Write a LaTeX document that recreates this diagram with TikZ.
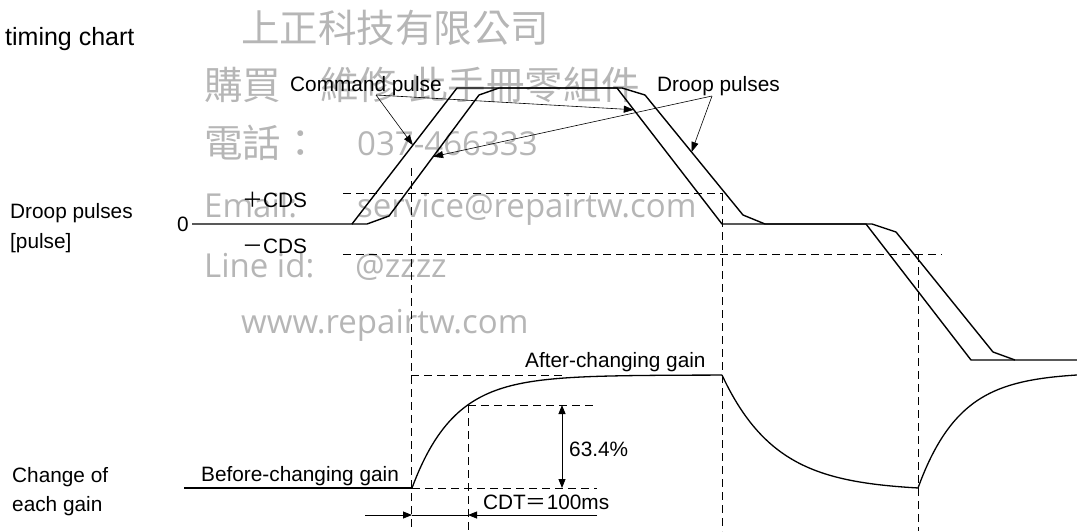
\documentclass[tikz,border=0pt]{standalone}
\usepackage{fontspec}
\setmainfont{Liberation Sans}
\newfontfamily\cjkw{Noto Sans CJK JP}
\newfontfamily\wmcjk{Noto Sans CJK TC}
\newfontfamily\wmlat{Open Sans}
\usetikzlibrary{arrows.meta,calc}
\definecolor{wmgray}{RGB}{182,182,182}
\begin{document}
\begin{tikzpicture}[x=1pt,y=-1pt,
  lbl/.style={inner sep=0pt, anchor=base west, font=\fontsize{20.8}{25}\selectfont},
  wmc/.style={inner sep=0pt, anchor=base west, text=wmgray, font=\wmcjk\fontsize{38.5}{40}\selectfont},
  wml/.style={inner sep=0pt, anchor=base west, text=wmgray, font=\wmlat\fontsize{33}{36}\selectfont},
  wave/.style={line width=1.4pt, line join=miter},
  gaincurve/.style={line width=1.3pt},
  guide/.style={line width=0.9pt, dash pattern=on 8pt off 5pt},
  leader/.style={line width=0.6pt, -{Triangle[length=10pt,width=7pt]}},
  dimline/.style={line width=0.8pt},
  tip/.style={-{Triangle[length=9pt,width=7pt]}},
]
\useasboundingbox (0,0) rectangle (1077,531);

% ---------- watermark ----------
\node[wmc] (wmA) at (241,42) {上正科技有限公司};
\node[wmc] (wmB) at (204,99) {購買};
\node[wmc] (wmC) at (320,99) {維修};
\node[wmc] (wmD) at (409,99) {此手冊零組件};
\node[wmc] (wmE) at (204,157) {電話：};
\node[wml] (wmF) at (357,155) {037-466333};
\node[wml] (wmG) at (204,217) {Email:};
\node[wml] (wmH) at (357,217) {service@repairtw.com};
\node[wml] (wmI) at (204,277) {Line id:};
\node[wml] (wmJ) at (355,277) {@zzzz};
\node[wml] (wmK) at (241,333) {www.repairtw.com};

% ---------- labels ----------
\node[lbl, font=\fontsize{25}{30}\selectfont] (title) at (5,45) {timing chart};
\node[lbl] (dp1) at (10,218) {Droop pulses};
\node[lbl] (dp2) at (10,248) {[pulse]};
\node[lbl, anchor=base east] (zero) at (189,231) {0};
\node[lbl] (pcds) at (242,207) {{\cjkw ＋}CDS};
\node[lbl] (mcds) at (242,253) {{\cjkw －}CDS};
\node[lbl] (cmdl) at (290,91) {Command pulse};
\node[lbl] (drpl) at (657,91) {Droop pulses};
\node[lbl] (cg1) at (12,482) {Change of};
\node[lbl] (cg2) at (12,511.5) {each gain};
\node[lbl] (bcg) at (201,481) {Before-changing gain};
\node[lbl] (acg) at (525,367) {After-changing gain};
\node[lbl] (pct) at (569,456) {63.4\%};
\node[lbl] (cdt) at (483,509) {CDT{\cjkw ＝}100ms};

% ---------- command pulse ----------
\coordinate (z0) at (192,224);
\coordinate (c1) at (352,224);
\coordinate (c2) at (457,88);
\coordinate (c3) at (617,88);
\coordinate (c4) at (722,224);
\coordinate (c5) at (866,224);
\coordinate (c6) at (971,360);
\coordinate (cend) at (1077,360);
\draw[wave] (z0) -- (c1) -- (c2) -- (c3) -- (c4) -- (c5) -- (c6) -- (cend);

% ---------- droop pulses ----------
\coordinate (d0) at (367,224);
\coordinate (d1) at (389,216);
\coordinate (d2) at (479,95);
\coordinate (d3) at (499,88);
\coordinate (d4) at (622,88);
\coordinate (d5) at (645,95);
\coordinate (d6) at (743,215);
\coordinate (d7) at (765,224);
\coordinate (d8) at (872,224);
\coordinate (d9) at (896,232);
\coordinate (d10) at (993,352);
\coordinate (d11) at (1015,360);
\draw[wave] (c1) -- (d0) -- (d1) -- (d2) -- (d3) -- (d4) -- (d5) -- (d6) -- (d7) -- (d8) -- (d9) -- (d10) -- (d11);

% ---------- CDS guides ----------
\coordinate (p0) at (343,193);
\coordinate (p1) at (722,193);
\coordinate (m0) at (343,254);
\coordinate (m1) at (942,254);
\draw[guide] (p0) -- (p1);
\draw[guide] (m0) -- (m1);
\coordinate (v1t) at (411,168);
\coordinate (v1b) at (411,531);
\coordinate (v2b) at (722,531);
\coordinate (v3t) at (918,254);
\coordinate (v3b) at (918,531);
\draw[guide] (v1t) -- (v1b);
\draw[guide] (p1) -- (v2b);
\draw[guide] (v3t) -- (v3b);

% ---------- leaders ----------
\coordinate (cpj) at (376,95);
\coordinate (dpj) at (712,96);
\coordinate (ctA) at ($(c1)!0.58!(c2)$);
\coordinate (ctB) at ($(c3)!0.16!(c4)$);
\coordinate (dtA) at ($(d1)!0.49!(d2)$);
\coordinate (dtB) at ($(d5)!0.475!(d6)$);
\draw[leader] (cpj) -- (ctA);
\draw[leader] (cpj) -- (ctB);
\draw[leader] (dpj) -- (dtA);
\draw[leader] (dpj) -- (dtB);

% ---------- gain ----------
\coordinate (g0) at (184,488);
\coordinate (g1) at (412,488);
\coordinate (g2) at (722,375);
\coordinate (g3) at (918,488);
\draw[gaincurve] (g0) -- (g1);
\draw[gaincurve] plot[domain=0:310, samples=140, smooth] ({412+\x},{488-113*(1-exp(-\x/42))});
\draw[gaincurve] plot[domain=0:196, samples=120, smooth] ({722+\x},{375+113*(1-exp(-\x/54))/0.9738});
\draw[gaincurve] plot[domain=0:159, samples=100, smooth] ({918+\x},{488-113*(1-exp(-\x/42))/0.9773});

\coordinate (t0) at (411,375);
\coordinate (t1) at (565,375);
\coordinate (h0) at (468,405);
\coordinate (h1) at (597,405);
\coordinate (b1) at (597,488);
\coordinate (v4b) at (468,531);
\draw[guide] (t0) -- (t1);
\draw[guide] (h0) -- (h1);
\draw[guide] (g1) -- (b1);
\draw[guide] (h0) -- (v4b);

% 63.4% arrow
\coordinate (ra) at (562,405);
\coordinate (rb) at (562,488);
\draw[dimline, {Triangle[length=9pt,width=7pt]}-{Triangle[length=9pt,width=7pt]}] (ra) -- (rb);

% CDT arrows
\coordinate (q0) at (365,515);
\coordinate (q1) at (412,515);
\coordinate (q2) at (468,515);
\coordinate (q3) at (597,515);
\draw[dimline] (q1) -- (q2);
\draw[dimline, tip] (q0) -- (q1);
\draw[dimline, tip] (q3) -- (q2);
\end{tikzpicture}
\end{document}
